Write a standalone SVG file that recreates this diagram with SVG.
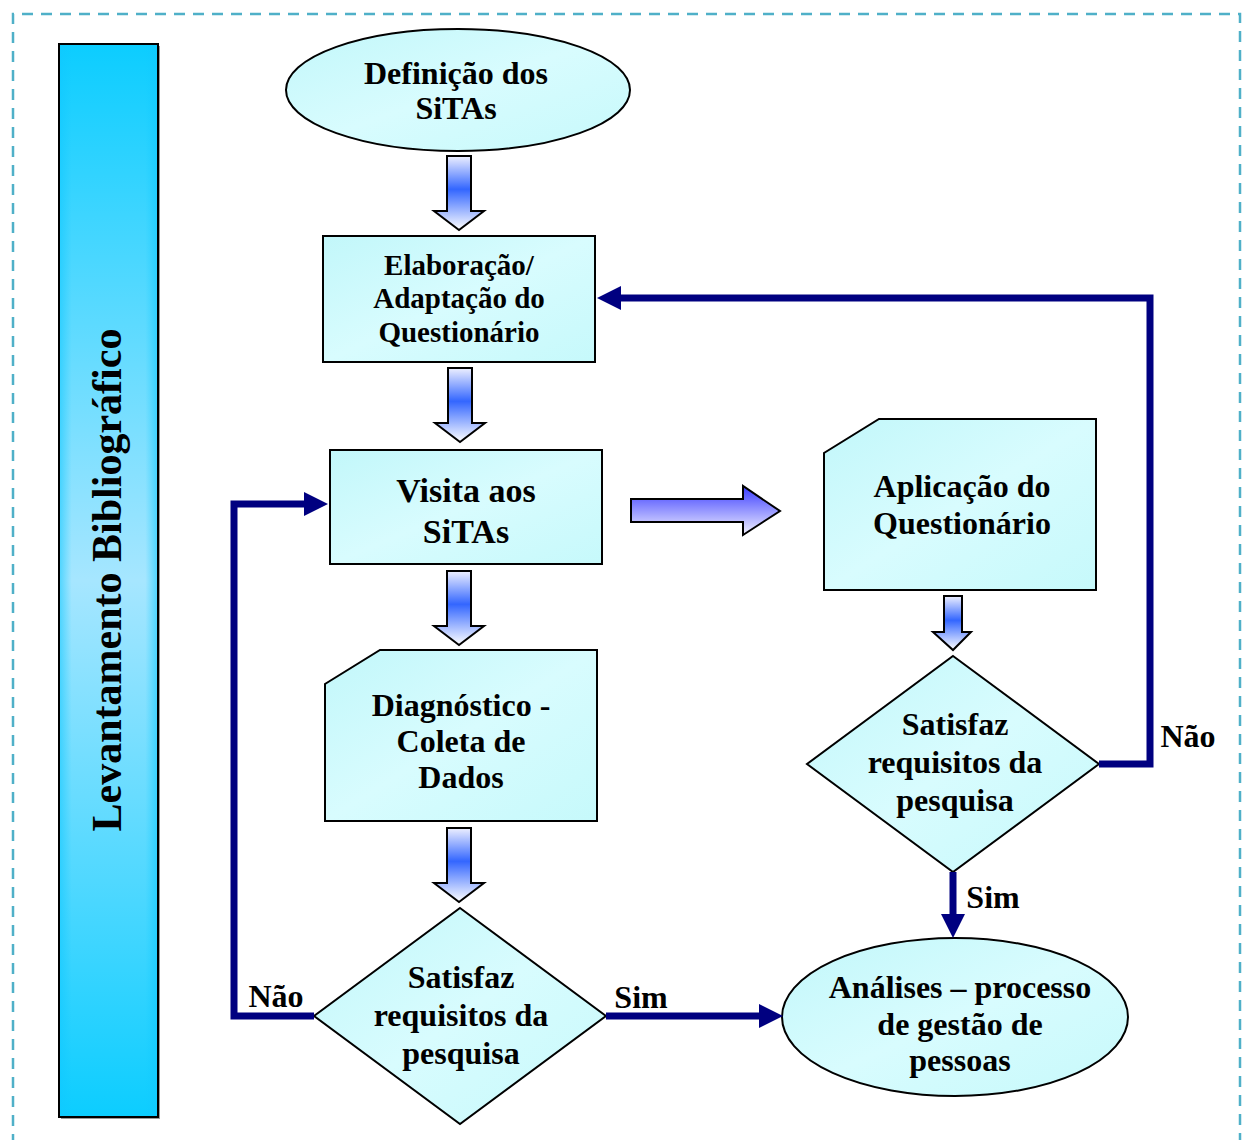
<svg xmlns="http://www.w3.org/2000/svg" width="1246" height="1140" viewBox="0 0 1246 1140">
  <style>
    .node { stroke: #000; stroke-width: 2; fill: url(#nodeFill); }
    .label { font-family: "Liberation Serif", "Times New Roman", serif; font-weight: bold; font-size: 32px; fill: #000; text-anchor: middle; }
    .flow { fill: none; stroke: #000080; stroke-width: 7; marker-end: url(#head); }
    .blk { stroke: #000; stroke-width: 2; stroke-linejoin: miter; }
  </style>
  <defs>
    <linearGradient id="nodeFill" x1="0" y1="0" x2="1" y2="1">
      <stop offset="0" stop-color="#c2f7fa"/>
      <stop offset="0.5" stop-color="#d8fcfe"/>
      <stop offset="1" stop-color="#c6f9fb"/>
    </linearGradient>
    <linearGradient id="barFill" x1="0" y1="0" x2="0" y2="1">
      <stop offset="0" stop-color="#0ccdff"/>
      <stop offset="0.5" stop-color="#a6e6ff"/>
      <stop offset="1" stop-color="#0ccdff"/>
    </linearGradient>
    <linearGradient id="barEdge" x1="0" y1="0" x2="1" y2="0">
      <stop offset="0" stop-color="#10c8ff" stop-opacity="0.55"/>
      <stop offset="0.12" stop-color="#10c8ff" stop-opacity="0"/>
      <stop offset="0.88" stop-color="#10c8ff" stop-opacity="0"/>
      <stop offset="1" stop-color="#10c8ff" stop-opacity="0.55"/>
    </linearGradient>
    <linearGradient id="downFill" x1="0" y1="0" x2="0" y2="1">
      <stop offset="0" stop-color="#eef0ff"/>
      <stop offset="0.45" stop-color="#3366ff"/>
      <stop offset="1" stop-color="#ffffff"/>
    </linearGradient>
    <linearGradient id="rightFill" x1="0" y1="0" x2="0" y2="1">
      <stop offset="0" stop-color="#3a3cff"/>
      <stop offset="1" stop-color="#f2f2ff"/>
    </linearGradient>
    <path id="downArrow" d="M-12,0 H12 V55 H25 L0,74 L-25,55 H-12 Z"/>
    <marker id="head" markerUnits="userSpaceOnUse" markerWidth="24" markerHeight="24" viewBox="0 0 24 24" refX="16" refY="12" orient="auto">
      <path d="M0,0 L24,12 L0,24 Z" fill="#000080"/>
    </marker>
  </defs>

  <!-- dashed frame -->
  <path d="M13,1145 V14 H1240 V1145" fill="none" stroke="#4fb0c8" stroke-width="2.5" stroke-dasharray="11 8"/>

  <!-- side bar -->
  <g id="levantamento">
    <rect x="61" y="46" width="99" height="1073" fill="#9a9a9a"/>
    <rect x="59" y="44" width="99" height="1073" fill="url(#barFill)" stroke="#000" stroke-width="2"/>
    <rect x="60" y="45" width="97" height="1071" fill="url(#barEdge)"/>
    <text class="label" style="font-size:42px" transform="translate(121,580) rotate(-90)">Levantamento Bibliográfico</text>
  </g>

  <!-- block arrows between steps -->
  <g id="block-arrows">
    <use href="#downArrow" class="blk" fill="url(#downFill)" x="459" y="156"/>
    <use href="#downArrow" class="blk" fill="url(#downFill)" x="460" y="368"/>
    <use href="#downArrow" class="blk" fill="url(#downFill)" x="459" y="571"/>
    <use href="#downArrow" class="blk" fill="url(#downFill)" x="459" y="828"/>
    <path class="blk" fill="url(#downFill)" d="M944,596 H962 V632 H971 L953,650 L933,632 H944 Z"/>
    <path class="blk" fill="url(#rightFill)" d="M631,499 H743 V486 L780,511 L743,535 V522 H631 Z"/>
  </g>

  <g id="definicao">
    <ellipse class="node" cx="458" cy="90" rx="172" ry="61"/>
    <text class="label" x="456" y="84">Definição dos</text>
    <text class="label" x="456" y="119">SiTAs</text>
  </g>

  <g id="elaboracao">
    <rect class="node" x="323" y="236" width="272" height="126"/>
    <text class="label" style="font-size:29px" x="459" y="275">Elaboração/</text>
    <text class="label" style="font-size:29px" x="459" y="308">Adaptação do</text>
    <text class="label" style="font-size:29px" x="459" y="342">Questionário</text>
  </g>

  <g id="visita">
    <rect class="node" x="330" y="450" width="272" height="114"/>
    <text class="label" style="font-size:34px" x="466" y="502">Visita aos</text>
    <text class="label" style="font-size:34px" x="466" y="543">SiTAs</text>
  </g>

  <g id="aplicacao">
    <path class="node" d="M879,419 H1096 V590 H824 V453 Z"/>
    <text class="label" x="962" y="497">Aplicação do</text>
    <text class="label" x="962" y="534">Questionário</text>
  </g>

  <g id="diagnostico">
    <path class="node" d="M380,650 H597 V821 H325 V684 Z"/>
    <text class="label" x="461" y="716">Diagnóstico -</text>
    <text class="label" x="461" y="752">Coleta de</text>
    <text class="label" x="461" y="788">Dados</text>
  </g>

  <g id="decisao-aplicacao">
    <path class="node" d="M953,656 L1099,764 L953,872 L807,764 Z"/>
    <text class="label" x="955" y="735">Satisfaz</text>
    <text class="label" x="955" y="773">requisitos da</text>
    <text class="label" x="955" y="811">pesquisa</text>
  </g>

  <g id="decisao-diagnostico">
    <path class="node" d="M460,908 L606,1016 L460,1124 L314,1016 Z"/>
    <text class="label" x="461" y="988">Satisfaz</text>
    <text class="label" x="461" y="1026">requisitos da</text>
    <text class="label" x="461" y="1064">pesquisa</text>
  </g>

  <g id="analises">
    <ellipse class="node" cx="955" cy="1017" rx="173" ry="79"/>
    <text class="label" x="960" y="998">Análises – processo</text>
    <text class="label" x="960" y="1035">de gestão de</text>
    <text class="label" x="960" y="1071">pessoas</text>
  </g>

  <!-- decision connectors -->
  <g id="connectors">
    <path class="flow" d="M1099,764 H1150 V298 H605"/>
    <path class="flow" d="M953,872 V930"/>
    <path class="flow" d="M314,1016 H234 V504 H320"/>
    <path class="flow" d="M606,1016 H775"/>
    <text class="label" x="1188" y="747">Não</text>
    <text class="label" x="993" y="908">Sim</text>
    <text class="label" x="276" y="1007">Não</text>
    <text class="label" x="641" y="1008">Sim</text>
  </g>
</svg>
